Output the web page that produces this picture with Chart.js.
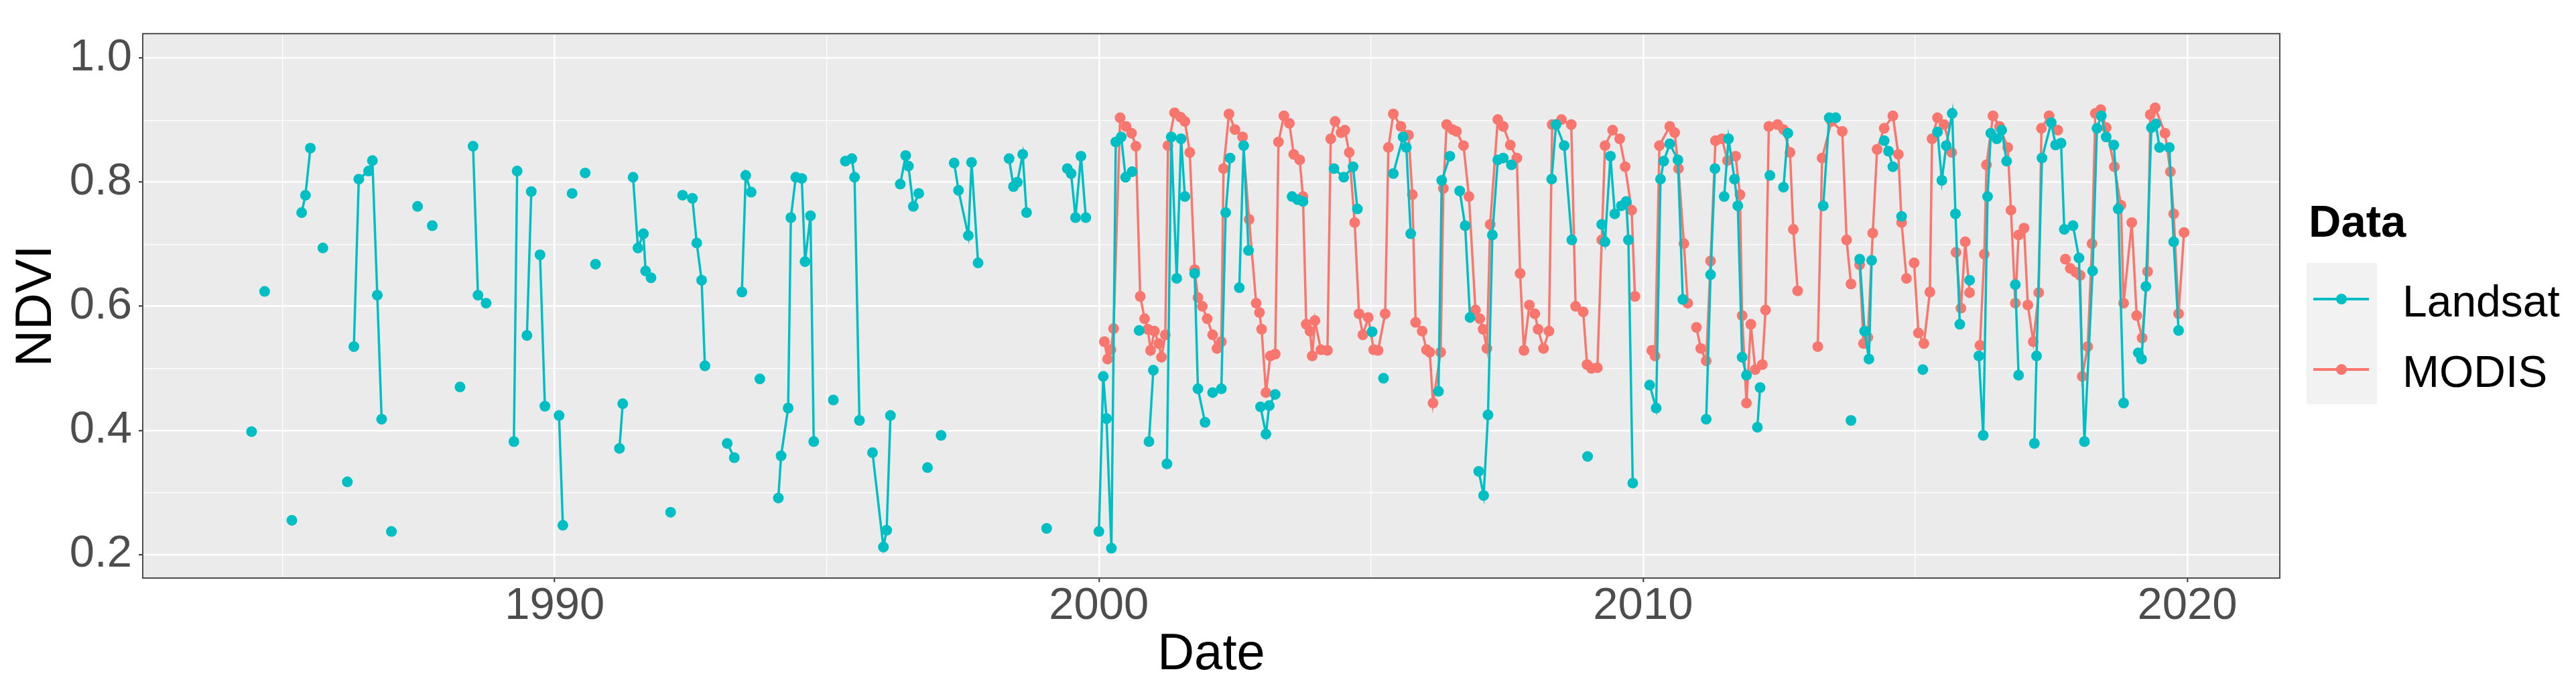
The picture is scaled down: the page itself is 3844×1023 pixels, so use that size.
<!DOCTYPE html>
<html>
<head>
<meta charset="utf-8">
<title>NDVI Landsat vs MODIS</title>
<script src="https://cdn.jsdelivr.net/npm/chart.js@4.4.1/dist/chart.umd.min.js"></script>
<style>
  html, body { margin: 0; padding: 0; background: #fff; }
  #wrap { position: relative; width: 3844px; height: 1023px; font-family: "Liberation Sans", Arial, sans-serif; }
  #ndvi { position: absolute; left: 0; top: 0; width: 3844px; height: 1023px; }
  .legend-title { position: absolute; left: 3445px; top: 296px; font-size: 67px; line-height: 67px; font-weight: bold; color: #000; }
  .legend-keys { position: absolute; left: 3442px; top: 392px; width: 105px; height: 211px; background: #f2f2f2; }
  .key-line { position: absolute; left: 10px; width: 83px; height: 4px; margin-top: -2px; }
  .key-dot { position: absolute; left: 44px; width: 16px; height: 16px; margin-top: -8px; border-radius: 50%; }
  .legend-label { position: absolute; left: 3585px; font-size: 66px; line-height: 66px; color: #000; }
</style>
</head>
<body>
<div id="wrap">
  <canvas id="ndvi" width="3844" height="1023"></canvas>
  <div class="legend-title">Data</div>
  <div class="legend-keys">
    <div class="key-line" style="top:54px;background:#00BFC4"></div>
    <div class="key-dot" style="top:54px;background:#00BFC4"></div>
    <div class="key-line" style="top:159px;background:#F8766D"></div>
    <div class="key-dot" style="top:159px;background:#F8766D"></div>
  </div>
  <div class="legend-label" style="top:416px">Landsat</div>
  <div class="legend-label" style="top:521px">MODIS</div>
</div>
<script>
// null marks a break in the line (no observation in between)
var landsatDates = [
  1984.43, null, 1984.67, null, 1985.17, null,
  1985.35, 1985.42, 1985.51, null, 1985.74, null, 1986.19, null,
  1986.31, 1986.40, 1986.58, 1986.65, 1986.74, 1986.82, null,
  1987.00, null, 1987.48, null, 1987.75, null, 1988.26, null,
  1988.50, 1988.59, 1988.74, null,
  1989.25, 1989.31, null, 1989.49, 1989.57, null, 1989.73, 1989.82, null,
  1990.08, 1990.15, null, 1990.32, null, 1990.56, null, 1990.75, null,
  1991.19, 1991.25, null, 1991.44, 1991.53, 1991.63, 1991.67, 1991.77, null,
  1992.13, null, 1992.35, 1992.53, 1992.61, 1992.70, 1992.76, null,
  1993.17, 1993.30, null, 1993.44, 1993.51, 1993.61, null, 1993.77, null,
  1994.11, 1994.16, 1994.29, 1994.34, 1994.43, 1994.54, 1994.60, 1994.70, 1994.76, null,
  1995.12, null, 1995.34, 1995.46, 1995.51, 1995.60, null,
  1995.84, 1996.04, 1996.10, 1996.17, null,
  1996.35, 1996.45, 1996.50, 1996.59, 1996.69, null, 1996.85, null, 1997.10, null,
  1997.34, 1997.42, 1997.60, 1997.66, 1997.78, null,
  1998.35, 1998.43, 1998.50, 1998.60, 1998.67, null, 1999.04, null,
  1999.42, 1999.49, 1999.57, 1999.67, 1999.76, null,
  2000.00, 2000.08, 2000.14, 2000.23, 2000.31, 2000.41, 2000.49, 2000.61, null,
  2000.74, null, 2000.92, 2001.00, null,
  2001.25, 2001.33, 2001.43, 2001.51, 2001.58, null,
  2001.76, 2001.82, 2001.95, null, 2002.09, 2002.25, 2002.33, 2002.41, null,
  2002.58, 2002.66, 2002.75, null, 2002.97, 2003.07, 2003.13, 2003.24, null,
  2003.55, 2003.65, 2003.75, null, 2004.32, 2004.50, 2004.67, 2004.75, null,
  2005.02, null, 2005.23, null, 2005.41, 2005.59, 2005.65, 2005.73, null,
  2006.24, 2006.30, 2006.45, null, 2006.63, 2006.73, 2006.82, null,
  2006.98, 2007.07, 2007.15, 2007.23, 2007.33, 2007.43, 2007.58, null,
  2008.32, 2008.40, 2008.55, 2008.69, null, 2008.98, null,
  2009.24, 2009.30, 2009.40, 2009.48, 2009.60, 2009.69, 2009.73, 2009.81, null,
  2010.12, 2010.24, 2010.32, 2010.38, 2010.49, 2010.64, 2010.73, null,
  2011.16, 2011.24, 2011.32, null, 2011.49, 2011.57, 2011.68, 2011.74, 2011.82, 2011.90, null,
  2012.10, 2012.15, null, 2012.33, null, 2012.58, 2012.66, null,
  2013.31, 2013.42, 2013.54, null, 2013.82, null,
  2013.98, 2014.07, 2014.15, 2014.20, null, 2014.43, 2014.51, 2014.59, null,
  2014.75, null, 2015.14, null,
  2015.41, 2015.49, 2015.57, 2015.68, 2015.74, 2015.82, null, 2016.00, null,
  2016.17, 2016.25, 2016.33, 2016.39, 2016.50, 2016.59, 2016.68, null,
  2016.84, 2016.90, null,
  2017.19, 2017.23, 2017.33, 2017.50, 2017.58, 2017.68, 2017.74, 2017.90, 2018.01,
  2018.11, 2018.26, 2018.34, 2018.42, 2018.51, 2018.65, 2018.73, 2018.83, null,
  2019.10, 2019.16, 2019.24, 2019.34, 2019.42, 2019.49, 2019.67, 2019.75, 2019.84
];
var landsatNdvi = [
  0.398, null, 0.624, null, 0.255, null,
  0.751, 0.779, 0.855, null, 0.694, null, 0.317, null,
  0.535, 0.805, 0.818, 0.835, 0.618, 0.418, null,
  0.237, null, 0.761, null, 0.730, null, 0.470, null,
  0.858, 0.618, 0.605, null,
  0.382, 0.818, null, 0.553, 0.785, null, 0.683, 0.439, null,
  0.424, 0.247, null, 0.782, null, 0.815, null, 0.668, null,
  0.371, 0.443, null, 0.808, 0.694, 0.717, 0.657, 0.646, null,
  0.268, null, 0.779, 0.774, 0.702, 0.642, 0.504, null,
  0.379, 0.356, null, 0.623, 0.811, 0.784, null, 0.483, null,
  0.291, 0.359, 0.436, 0.743, 0.808, 0.806, 0.672, 0.746, 0.382, null,
  0.449, null, 0.834, 0.838, 0.808, 0.416, null,
  0.364, 0.212, 0.239, 0.424, null,
  0.797, 0.843, 0.826, 0.761, 0.782, null, 0.340, null, 0.392, null,
  0.831, 0.787, 0.714, 0.832, 0.670, null,
  0.838, 0.793, 0.800, 0.845, 0.751, null, 0.242, null,
  0.822, 0.814, 0.743, 0.842, 0.743, null,
  0.237, 0.487, 0.419, 0.210, 0.865, 0.873, 0.808, 0.817, null,
  0.561, null, 0.382, 0.497, null,
  0.346, 0.873, 0.645, 0.870, 0.777, null,
  0.653, 0.467, 0.413, null, 0.461, 0.467, 0.751, 0.839, null,
  0.630, 0.859, 0.690, null, 0.438, 0.394, 0.440, 0.458, null,
  0.777, 0.772, 0.769, null, 0.822, 0.808, 0.825, 0.757, null,
  0.559, null, 0.484, null, 0.814, 0.873, 0.856, 0.717, null,
  0.463, 0.803, 0.842, null, 0.786, 0.730, 0.582, null,
  0.334, 0.295, 0.425, 0.715, 0.836, 0.839, 0.828, null,
  0.805, 0.893, 0.859, 0.707, null, 0.358, null,
  0.732, 0.704, 0.842, 0.749, 0.762, 0.769, 0.707, 0.315, null,
  0.473, 0.436, 0.805, 0.834, 0.862, 0.836, 0.611, null,
  0.418, 0.651, 0.822, null, 0.777, 0.870, 0.805, 0.762, 0.518, 0.489, null,
  0.405, 0.469, null, 0.811, null, 0.792, 0.879, null,
  0.762, 0.904, 0.904, null, 0.416, null,
  0.676, 0.560, 0.515, 0.674, null, 0.867, 0.850, 0.825, null,
  0.745, null, 0.498, null,
  0.881, 0.803, 0.859, 0.911, 0.749, 0.571, null, 0.642, null,
  0.520, 0.392, 0.777, 0.879, 0.870, 0.884, 0.834, null,
  0.635, 0.489, null,
  0.379, 0.520, 0.839, 0.896, 0.860, 0.863, 0.724, 0.730, 0.678,
  0.382, 0.657, 0.887, 0.907, 0.873, 0.860, 0.757, 0.444, null,
  0.525, 0.515, 0.632, 0.888, 0.894, 0.856, 0.856, 0.704, 0.561
];

var modisDates = [
  2000.10, 2000.16, 2000.22, 2000.27, 2000.39, 2000.50, 2000.60, 2000.68, 2000.76, 2000.84, 2000.90, 2000.95,
  2001.02, 2001.10, 2001.15, 2001.22, 2001.27, 2001.39, 2001.50, 2001.58, 2001.67, 2001.76, 2001.82, 2001.90, 2001.99,
  2002.09, 2002.17, 2002.25, 2002.29, 2002.39, 2002.50, 2002.64, 2002.76, 2002.89, 2002.95, 2002.99,
  2003.07, 2003.15, 2003.24, 2003.30, 2003.40, 2003.50, 2003.58, 2003.69, 2003.75, 2003.81, 2003.88, 2003.92, 2003.97,
  2004.08, 2004.20, 2004.26, 2004.34, 2004.45, 2004.52, 2004.60, 2004.70, 2004.78, 2004.85, 2004.95,
  2005.05, 2005.13, 2005.26, 2005.32, 2005.41, 2005.55, 2005.69, 2005.76, 2005.82, 2005.94,
  2006.02, 2006.08, 2006.14, 2006.28, 2006.33, 2006.39, 2006.50, 2006.57, 2006.70, 2006.80, 2006.92,
  2007.00, 2007.06, 2007.13, 2007.19, 2007.33, 2007.43, 2007.56, 2007.68, 2007.74, 2007.81, 2007.91,
  2008.01, 2008.07, 2008.17, 2008.27, 2008.33, 2008.50, 2008.68, 2008.76, 2008.90, 2008.97,
  2009.05, 2009.16, 2009.24, 2009.30, 2009.44, 2009.57, 2009.67, 2009.79, 2009.85, null,
  2010.16, 2010.22, 2010.30, 2010.49, 2010.58, 2010.65, 2010.75, 2010.82, null, 2010.98,
  2011.06, 2011.16, 2011.24, 2011.33, 2011.45, 2011.55, 2011.70, 2011.78, 2011.82, 2011.90, 2011.98,
  2012.06, 2012.19, 2012.25, 2012.31, 2012.47, 2012.58, 2012.70, 2012.76, 2012.84, null,
  2013.21, 2013.29, 2013.46, 2013.66, 2013.74, 2013.82, null, 2013.98,
  2014.05, 2014.13, 2014.22, 2014.30, 2014.43, 2014.59, 2014.69, 2014.75, 2014.84, null, 2014.98,
  2015.06, 2015.16, 2015.27, 2015.31, 2015.41, 2015.53, 2015.67, null, 2015.75, 2015.84, 2015.92,
  2016.00, null, 2016.19, 2016.27, 2016.31, 2016.43, 2016.55, 2016.70, 2016.76, 2016.84, 2016.90,
  2017.00, 2017.07, 2017.17, 2017.27, 2017.32, 2017.46, 2017.62, null, 2017.76, 2017.85, 2017.95,
  2018.03, 2018.07, 2018.17, 2018.25, 2018.31, 2018.41, 2018.51, 2018.66, 2018.78, 2018.83, 2018.98,
  2019.07, 2019.17, 2019.27, 2019.32, 2019.41, 2019.59, 2019.69, 2019.75, 2019.84, 2019.94
];
var modisNdvi = [
  0.543, 0.515, 0.530, 0.564, 0.904, 0.890, 0.879, 0.858, 0.616, 0.580, 0.563, 0.529,
  0.560, 0.540, 0.518, 0.554, 0.859, 0.912, 0.905, 0.898, 0.848, 0.659, 0.614, 0.600, 0.580,
  0.554, 0.532, 0.543, 0.822, 0.910, 0.885, 0.873, 0.740, 0.605, 0.590, 0.563,
  0.461, 0.520, 0.523, 0.865, 0.907, 0.895, 0.845, 0.836, 0.777, 0.571, 0.560, 0.520, 0.577,
  0.530, 0.529, 0.870, 0.898, 0.880, 0.884, 0.848, 0.735, 0.588, 0.554, 0.582,
  0.530, 0.529, 0.588, 0.856, 0.910, 0.890, 0.876, 0.780, 0.574, 0.560,
  0.530, 0.526, 0.444, 0.526, 0.790, 0.893, 0.885, 0.882, 0.859, 0.777, 0.594,
  0.580, 0.563, 0.532, 0.732, 0.901, 0.890, 0.860, 0.839, 0.653, 0.529, 0.602,
  0.588, 0.563, 0.532, 0.560, 0.893, 0.901, 0.893, 0.600, 0.591, 0.506,
  0.500, 0.501, 0.707, 0.859, 0.884, 0.870, 0.825, 0.755, 0.616, null,
  0.529, 0.520, 0.859, 0.890, 0.880, 0.822, 0.701, 0.605, null, 0.566,
  0.532, 0.512, 0.673, 0.867, 0.870, 0.835, 0.842, 0.780, 0.585, 0.444, 0.571,
  0.498, 0.506, 0.594, 0.890, 0.893, 0.885, 0.848, 0.724, 0.625, null,
  0.535, 0.839, 0.898, 0.882, 0.707, 0.636, null, 0.667,
  0.540, 0.550, 0.718, 0.853, 0.887, 0.907, 0.845, 0.735, 0.645, null, 0.670,
  0.557, 0.540, 0.623, 0.870, 0.904, 0.893, 0.848, null, 0.687, 0.597, 0.704,
  0.622, null, 0.537, 0.684, 0.828, 0.907, 0.890, 0.856, 0.755, 0.605, 0.715,
  0.726, 0.602, 0.543, 0.622, 0.887, 0.907, 0.884, null, 0.676, 0.661, 0.655,
  0.650, 0.487, 0.535, 0.701, 0.911, 0.917, 0.888, 0.825, 0.763, 0.605, 0.735,
  0.585, 0.549, 0.656, 0.909, 0.920, 0.879, 0.817, 0.749, 0.588, 0.719
];

var xTickStep = 5;   // labels every 10 years, minor grid every 5
var yTickStep = 0.1; // labels every 0.2, minor grid every 0.1
var xRange = [1982.43, 2021.70];
var yRange = [0.162, 1.0395];

var FONT = '"Liberation Sans", Arial, sans-serif';
var TEAL = '#00BFC4';
var SALMON = '#F8766D';

function toPoints(dates, values) {
  var pts = [];
  var last = dates[0];
  for (var i = 0; i < values.length; i++) {
    if (values[i] === null) {
      pts.push({ x: last, y: null }); // break the line here
    } else {
      last = dates[i];
      pts.push({ x: dates[i], y: values[i] });
    }
  }
  return pts;
}

function isMajorX(v) { return Math.round(v) % 10 === 0; }
function isMajorY(v) { return Math.round(v * 10) % 2 === 0; }

var panelPlugin = {
  id: 'panel',
  beforeDraw: function (chart) {
    var a = chart.chartArea, ctx = chart.ctx;
    ctx.save();
    ctx.fillStyle = '#EBEBEB';
    ctx.fillRect(a.left, a.top, a.right - a.left, a.bottom - a.top);
    ctx.restore();
  },
  afterDraw: function (chart) {
    var a = chart.chartArea, ctx = chart.ctx;
    ctx.save();
    ctx.strokeStyle = '#4D4D4D';
    ctx.lineWidth = 2;
    ctx.strokeRect(a.left, a.top, a.right - a.left, a.bottom - a.top);
    ctx.restore();
  }
};

Chart.defaults.font.family = FONT;

new Chart(document.getElementById('ndvi').getContext('2d'), {
  type: 'line',
  data: {
    datasets: [
      {
        label: 'Landsat',
        data: toPoints(landsatDates, landsatNdvi),
        borderColor: TEAL, backgroundColor: TEAL,
        borderWidth: 3.5, pointRadius: 8, pointBorderWidth: 0,
        spanGaps: false, tension: 0, order: 0
      },
      {
        label: 'MODIS',
        data: toPoints(modisDates, modisNdvi),
        borderColor: SALMON, backgroundColor: SALMON,
        borderWidth: 3.5, pointRadius: 8, pointBorderWidth: 0,
        spanGaps: false, tension: 0, order: 1
      }
    ]
  },
  options: {
    responsive: false,
    devicePixelRatio: 1,
    animation: false,
    layout: { padding: { left: 0, top: 37, right: 442, bottom: 0 } },
    plugins: { legend: { display: false }, tooltip: { enabled: false } },
    scales: {
      x: {
        type: 'linear',
        min: xRange[0], max: xRange[1],
        afterFit: function (s) { s.height = 161; },
        border: { display: false },
        grid: {
          color: '#FFFFFF',
          lineWidth: function (c) { return c.tick && isMajorX(c.tick.value) ? 2.6 : 1.3; },
          tickColor: function (c) { return c.tick && isMajorX(c.tick.value) ? '#333333' : 'rgba(0,0,0,0)'; },
          tickWidth: 2,
          tickLength: 6
        },
        ticks: {
          stepSize: xTickStep, includeBounds: false, autoSkip: false, maxRotation: 0,
          color: '#4D4D4D', font: { size: 67 }, padding: -4,
          callback: function (v) { return isMajorX(v) ? String(Math.round(v)) : ''; }
        },
        title: { display: true, text: 'Date', color: '#000', font: { size: 76 }, padding: { top: 0, bottom: 0 } }
      },
      y: {
        min: yRange[0], max: yRange[1],
        afterFit: function (s) { s.width = 213; },
        border: { display: false },
        grid: {
          color: '#FFFFFF',
          lineWidth: function (c) { return c.tick && isMajorY(c.tick.value) ? 2.6 : 1.3; },
          tickColor: function (c) { return c.tick && isMajorY(c.tick.value) ? '#333333' : 'rgba(0,0,0,0)'; },
          tickWidth: 2,
          tickLength: 6
        },
        ticks: {
          stepSize: yTickStep, includeBounds: false, autoSkip: false,
          color: '#4D4D4D', font: { size: 67 }, padding: 10,
          callback: function (v) { return isMajorY(v) ? (Math.round(v * 10) / 10).toFixed(1) : ''; }
        },
        title: { display: true, text: 'NDVI', color: '#000', font: { size: 76 }, padding: { top: 9, bottom: 0 } }
      }
    }
  },
  plugins: [panelPlugin]
});
</script>
</body>
</html>
